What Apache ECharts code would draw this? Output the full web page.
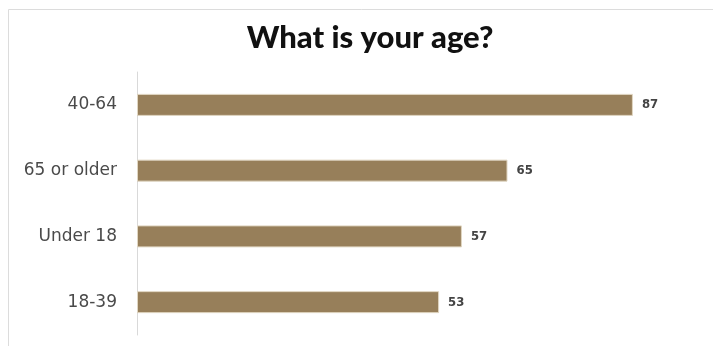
<!DOCTYPE html>
<html>
<head>
<meta charset="utf-8">
<script src="https://cdn.jsdelivr.net/npm/echarts@6/dist/echarts.min.js"></script>
<style>
  html, body { margin: 0; padding: 0; background: #fff; }
  #chart { width: 713px; height: 346px; }
</style>
</head>
<body>
<div id="chart"></div>
<script>
// Age groups, listed bottom to top as the category axis draws them
const categories = ['18-39', 'Under 18', '65 or older', '40-64'];
const counts = [53, 57, 65, 87];
const titleText = 'What is your age?';

const chart = echarts.init(document.getElementById('chart'));
chart.setOption({
  animation: false,
  backgroundColor: '#ffffff',
  title: {
    text: titleText,
    left: 365,
    textAlign: 'center',
    top: 17,
    textStyle: {
      fontFamily: 'Lato',
      fontWeight: 900,
      fontSize: 31,
      color: '#111'
    }
  },
  graphic: [{
    type: 'rect',
    silent: true,
    shape: { x: 8.5, y: 9.5, width: 720, height: 350 },
    style: { fill: 'none', stroke: '#dcdcdc', lineWidth: 1 }
  }],
  grid: { left: 137, right: 6, top: 72, bottom: 11, containLabel: false },
  xAxis: {
    type: 'value',
    min: 0,
    max: 100,
    show: false
  },
  yAxis: {
    type: 'category',
    data: categories,
    axisLine: { show: true, lineStyle: { color: '#d9d9d9', width: 1 } },
    axisTick: { show: false },
    axisLabel: {
      margin: 20,
      fontFamily: 'DejaVu Sans',
      fontSize: 17,
      color: '#4a4a4a'
    }
  },
  series: [{
    type: 'bar',
    data: counts,
    barWidth: 22,
    itemStyle: {
      color: '#977f5a',
      borderColor: '#e0d6c2',
      borderWidth: 1
    },
    label: {
      show: true,
      position: 'right',
      distance: 9,
      fontFamily: 'DejaVu Sans Condensed',
      fontWeight: 'bold',
      fontSize: 13,
      color: '#444'
    }
  }]
});
</script>
</body>
</html>
